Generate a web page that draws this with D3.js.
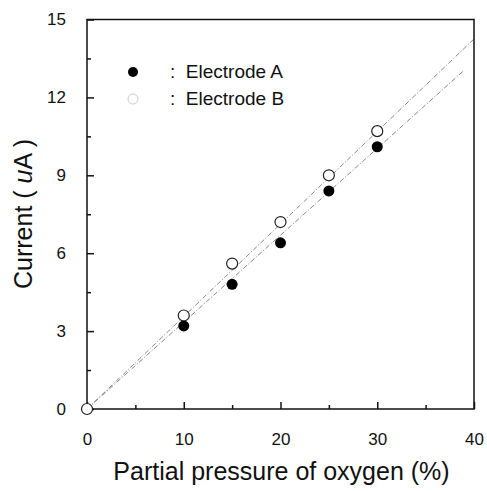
<!DOCTYPE html>
<html><head><meta charset="utf-8">
<script src="https://cdn.jsdelivr.net/npm/d3@7"></script>
<style>body{margin:0;background:#fff}text{font-family:"Liberation Sans",Arial,sans-serif;fill:#111}</style>
</head><body><svg id="c" width="487" height="491"></svg>
<script>
const xA = [0, 10, 15, 20, 25, 30];
const yA = [0, 3.2, 4.8, 6.4, 8.4, 10.1];
const xB = [0, 10, 15, 20, 25, 30];
const yB = [0, 3.6, 5.6, 7.2, 9.0, 10.7];
const fitA = [[0, 0], [39, 13.05]];
const fitB = [[0, 0], [40, 14.25]];
const xTicks = [0, 10, 20, 30, 40];
const yTicks = [0, 3, 6, 9, 12, 15];
const legendLabels = [": Electrode A", ": Electrode B"];

const svg = d3.select("#c");
const L = 87, R = 474, T = 19.5, B = 409;
const x = d3.scaleLinear().domain([0, 40]).range([L, R]);
const y = d3.scaleLinear().domain([0, 15]).range([B, T]);

// fit lines
const line = d3.line().x(d => x(d[0])).y(d => y(d[1]));
[fitA, fitB].forEach(f => {
  svg.append("path").attr("d", line(f)).attr("fill", "none")
    .attr("stroke", "#888").attr("stroke-width", 1).attr("stroke-dasharray", "5,2,1,2");
});

// frame
svg.append("rect").attr("x", L).attr("y", T).attr("width", R - L).attr("height", B - T)
  .attr("fill", "none").attr("stroke", "#111").attr("stroke-width", 1.5);

// axes with inward ticks
const xAx = svg.append("g").attr("transform", `translate(0,${B})`)
  .call(d3.axisBottom(x).tickValues(xTicks).tickSize(-7).tickPadding(24).tickFormat(d3.format("d")));
const xMinor = svg.append("g").attr("transform", `translate(0,${B})`)
  .call(d3.axisBottom(x).tickValues(d3.range(5, 40, 10)).tickSize(-4).tickFormat(""));
const yAx = svg.append("g").attr("transform", `translate(${L},0)`)
  .call(d3.axisLeft(y).tickValues(yTicks).tickSize(-7).tickPadding(21).tickFormat(d3.format("d")));
const yMinor = svg.append("g").attr("transform", `translate(${L},0)`)
  .call(d3.axisLeft(y).tickValues(d3.range(1.5, 15, 3)).tickSize(-4).tickFormat(""));
[xAx, xMinor, yAx, yMinor].forEach(g => {
  g.select(".domain").remove();
  g.selectAll("line").attr("stroke", "#111").attr("stroke-width", 1.5);
  g.selectAll("text").attr("font-size", 17).style("font-family", '"Liberation Sans",Arial,sans-serif').attr("fill", "#111");
});

// points
svg.append("g").selectAll("circle").data(xB.map((v, i) => [v, yB[i]])).join("circle")
  .attr("cx", d => x(d[0])).attr("cy", d => y(d[1])).attr("r", 5.5)
  .attr("fill", "#fff").attr("stroke", "#222").attr("stroke-width", 1.2);
svg.append("g").selectAll("circle").data(xA.map((v, i) => [v, yA[i]]).slice(1)).join("circle")
  .attr("cx", d => x(d[0])).attr("cy", d => y(d[1])).attr("r", 5.5).attr("fill", "#000");

// legend
const lg = svg.append("g");
lg.append("circle").attr("cx", 133).attr("cy", 72).attr("r", 5).attr("fill", "#000");
lg.append("circle").attr("cx", 133).attr("cy", 99).attr("r", 5).attr("fill", "none").attr("stroke", "#ccc").attr("stroke-width", 1);
legendLabels.forEach((t, i) => {
  lg.append("text").attr("x", 170).attr("y", 78 + i * 27).attr("font-size", 19)
    .attr("xml:space", "preserve").style("white-space", "pre").text(t.replace(": ", ":  "));
});

// axis titles
svg.append("text").attr("x", (L + R) / 2 + 1).attr("y", 480).attr("text-anchor", "middle")
  .attr("font-size", 25).text("Partial pressure of oxygen (%)");
const yt = svg.append("text").attr("transform", "translate(32,214) rotate(-90)")
  .attr("text-anchor", "middle").attr("font-size", 25);
yt.append("tspan").text("Current ( ");
yt.append("tspan").attr("font-style", "italic").text("u");
yt.append("tspan").text("A )");
</script></body></html>
